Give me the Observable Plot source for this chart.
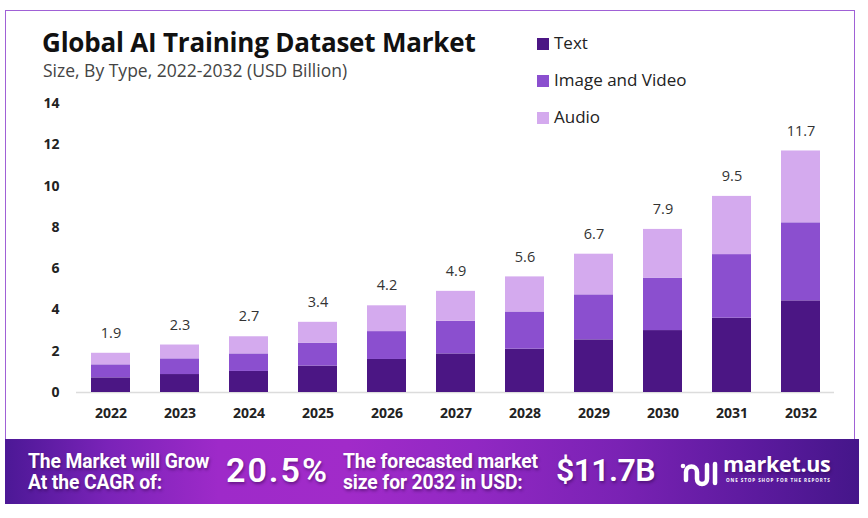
<!DOCTYPE html>
<html>
<head>
<meta charset="utf-8">
<script src="https://cdn.jsdelivr.net/npm/d3@7"></script>
<script src="https://cdn.jsdelivr.net/npm/@observablehq/plot@0.6"></script>
<style>
  html, body { margin: 0; padding: 0; background: #fff; }
  #wrap { position: relative; width: 868px; height: 518px; overflow: hidden; font-family: "Open Sans", sans-serif; }
  #frame { position: absolute; left: 5px; top: 10px; width: 850px; height: 432px; border: 1.5px solid #a061d6; border-bottom: none; box-sizing: border-box; }
  #chart { position: absolute; left: 0; top: 0; }
  #title { position: absolute; left: 42px; top: 24px; font-size: 26px; font-weight: 700; color: #111; letter-spacing: -0.2px; white-space: nowrap; }
  #subtitle { position: absolute; left: 43px; top: 58px; font-size: 17.5px; color: #444; white-space: nowrap; }
  #legend { position: absolute; left: 537px; top: 32px; font-size: 17px; color: #222; }
  #legend .item { position: absolute; left: 0; white-space: nowrap; height: 22px; line-height: 22px; }
  #legend .sw { display: inline-block; width: 12px; height: 12px; margin-right: 5px; vertical-align: -1px; }
  #banner { position: absolute; left: 5px; top: 439px; width: 854px; height: 65px;
    background: linear-gradient(90deg, #4c1896 0%, #7a23b8 12%, #9e2ac9 25%, #a12bc9 40%, #9128c3 55%, #7a22b4 72%, #5c1a9e 88%, #45168a 100%); }
  .bt { position: absolute; color: #fff; font-weight: 700; white-space: nowrap; text-shadow: 1px 2px 3px rgba(40,0,60,0.45); }
  .small { font-family: "Roboto", sans-serif; font-size: 19.3px; line-height: 21px; letter-spacing: -0.1px; }
  .big { font-family: "Roboto", sans-serif; font-size: 34px; line-height: 40px; font-weight: 600; }
  svg text { font-family: "Open Sans", sans-serif; }
  [aria-label="x-axis tick label"] text, [aria-label="y-axis tick label"] text { font-weight: 700; }
</style>
</head>
<body>
<div id="wrap">
  <div id="frame"></div>
  <div id="chart"></div>
  <div id="title">Global AI Training Dataset Market</div>
  <div id="subtitle">Size, By Type, 2022-2032 (USD Billion)</div>
  <div id="legend"></div>
  <div id="banner">
    <div class="bt small" style="left:23px; top:12px;">The Market will Grow<br>At the CAGR of:</div>
    <div class="bt big" style="left:221px; top:11px; letter-spacing:2px;">20.5%</div>
    <div class="bt small" style="left:338px; top:12px;">The forecasted market<br>size for 2032 in USD:</div>
    <div class="bt big" style="left:551px; top:11px; font-size:32px; letter-spacing:-0.6px;">$11.7B</div>
    <svg style="position:absolute; left:675px; top:21px;" width="40" height="28" viewBox="0 0 40 28">
      <g fill="none" stroke="#fff" stroke-width="4.5" stroke-linecap="round">
        <path d="M6 20 L6 12 A5.5 5.5 0 0 1 17 12 L17 19 A5 5 0 0 0 27 19 L27 5"/>
        <path d="M35 4 L35 23"/>
      </g>
      <circle cx="3" cy="6" r="2.3" fill="#fff"/>
    </svg>
    <div class="bt" style="left:718px; top:12px; font-family:'Open Sans',sans-serif; font-size:21.5px; line-height:26px; letter-spacing:-0.3px;">market.us</div>
    <div class="bt" style="left:721px; top:38px; font-size:4.6px; letter-spacing:0.9px; text-shadow:none; font-family:'Open Sans',sans-serif;">ONE STOP SHOP FOR THE REPORTS</div>
  </div>
</div>
<script>
const years = ["2022","2023","2024","2025","2026","2027","2028","2029","2030","2031","2032"];
const types = ["Text", "Image and Video", "Audio"];
const colors = ["#4b1684", "#8b4fcf", "#d4aaee"];
const textVals  = [0.71, 0.87, 1.02, 1.28, 1.60, 1.87, 2.10, 2.55, 3.00, 3.60, 4.44];
const imageVals = [0.63, 0.76, 0.85, 1.11, 1.35, 1.58, 1.80, 2.18, 2.54, 3.08, 3.78];
const audioVals = [0.56, 0.67, 0.83, 1.01, 1.25, 1.45, 1.70, 1.97, 2.36, 2.82, 3.48];
const totals    = [1.9, 2.3, 2.7, 3.4, 4.2, 4.9, 5.6, 6.7, 7.9, 9.5, 11.7];
const yTicks = [0, 2, 4, 6, 8, 10, 12, 14];

const series = [textVals, imageVals, audioVals];
const data = years.flatMap((yr, i) => types.map((t, k) => ({year: yr, type: t, value: series[k][i]})));
const totalData = years.map((yr, i) => ({year: yr, total: totals[i]}));

const chart = Plot.plot({
  width: 868,
  height: 435,
  marginTop: 103,
  marginBottom: 43,
  marginLeft: 76,
  marginRight: 34,
  style: {background: "transparent", color: "#222", fontSize: "14px", fontFamily: "Open Sans, sans-serif"},
  x: {domain: years, paddingInner: 0.435, paddingOuter: 0.2, label: null},
  y: {domain: [0, 14], label: null},
  color: {domain: types, range: colors},
  marks: [
    Plot.ruleY([0], {stroke: "#dcdcdc", strokeWidth: 1.5}),
    Plot.barY(data, {x: "year", y: "value", fill: "type"}),
    Plot.text(totalData, {x: "year", y: "total", text: d => d.total.toFixed(1), dy: -20, fontSize: 14.5, fill: "#333"}),
    Plot.axisX({tickSize: 0, tickPadding: 16, fontSize: 14, fill: "#222", label: null}),
    Plot.axisY({ticks: yTicks, tickSize: 0, tickPadding: 17, fontSize: 14, fill: "#222", label: null, tickFormat: d => String(d)})
  ]
});
document.getElementById("chart").appendChild(chart);

const legend = document.getElementById("legend");
types.forEach((t, k) => {
  const div = document.createElement("div");
  div.className = "item";
  div.style.top = (k * 37) + "px";
  const sw = document.createElement("span");
  sw.className = "sw";
  sw.style.background = colors[k];
  div.appendChild(sw);
  div.appendChild(document.createTextNode(t));
  legend.appendChild(div);
});
</script>
</body>
</html>
